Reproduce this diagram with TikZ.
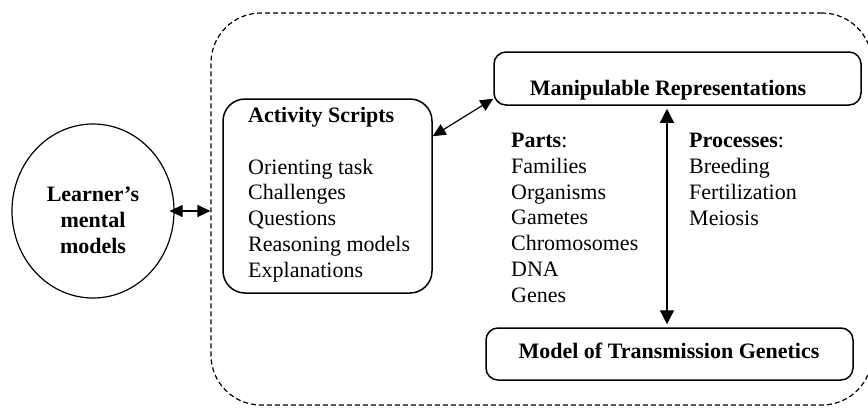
\documentclass[tikz,border=0pt]{standalone}
\usepackage{fontspec}
\setmainfont{Liberation Serif}
\usetikzlibrary{shapes.geometric,arrows.meta}
\begin{document}
\begin{tikzpicture}[x=1pt,y=-1pt,
  txt/.style={inner sep=0pt, font=\fontsize{22pt}{25.7pt}\selectfont},
  rbox/.style={draw, line width=1.5pt, inner sep=0pt},
  dbl/.style={line width=1.2pt, {Triangle[length=13pt,width=12pt]}-{Triangle[length=13pt,width=12pt]}}
]
\useasboundingbox (0,0) rectangle (868,408);
% dashed frame
\node[draw, dashed, dash pattern=on 5pt off 3pt, line width=1.2pt, rounded corners=50pt,
  minimum width=661pt, minimum height=392pt, inner sep=0pt] (frame) at (541.5,209) {};
% learner circle
\node[draw, ellipse, line width=1.2pt, minimum width=162pt, minimum height=174pt, inner sep=0pt] (circ) at (93,211) {};
\node[txt, anchor=base, align=center, font=\fontsize{22pt}{25.7pt}\selectfont\bfseries] (circtxt) at (93,253) {Learner's\\mental\\models};
% activity scripts
\node[rbox, rounded corners=22pt, minimum width=209pt, minimum height=194pt] (act) at (327.5,196) {};
\node[txt, anchor=base west, align=left] (acttxt) at (248,277)
  {\textbf{Activity Scripts}\\[25.7pt]Orienting task\\Challenges\\Questions\\Reasoning models\\Explanations};
% manipulable representations
\node[rbox, rounded corners=12pt, minimum width=367pt, minimum height=53pt] (manip) at (677.5,78.5) {};
\node[txt, anchor=base, font=\fontsize{22pt}{25.7pt}\selectfont\bfseries] (maniptxt) at (668,95) {Manipulable Representations};
% model box
\node[rbox, rounded corners=12pt, minimum width=367pt, minimum height=52pt] (model) at (669.5,354) {};
\node[txt, anchor=base, font=\fontsize{22pt}{25.7pt}\selectfont\bfseries] (modeltxt) at (669,358) {Model of Transmission Genetics};
% parts and processes
\node[txt, anchor=base west, align=left] (parts) at (511,302)
  {\textbf{Parts}:\\Families\\Organisms\\Gametes\\Chromosomes\\DNA\\Genes};
\node[txt, anchor=base west, align=left] (procs) at (689,225)
  {\textbf{Processes}:\\Breeding\\Fertilization\\Meiosis};
% connectors
\draw[dbl] ([xshift=-5pt]circ.east) -- (circ.east -| frame.west);
\draw[dbl] ([yshift=-38pt]act.north east) -- ([yshift=7pt]manip.south west);
\draw[line width=1.2pt, {Triangle[length=14pt,width=14pt]}-{Triangle[length=14pt,width=14pt]}]
  ([xshift=-10.5pt,yshift=-3pt]manip.south) -- ([xshift=-2.5pt,yshift=3pt]model.north);
\end{tikzpicture}
\end{document}
